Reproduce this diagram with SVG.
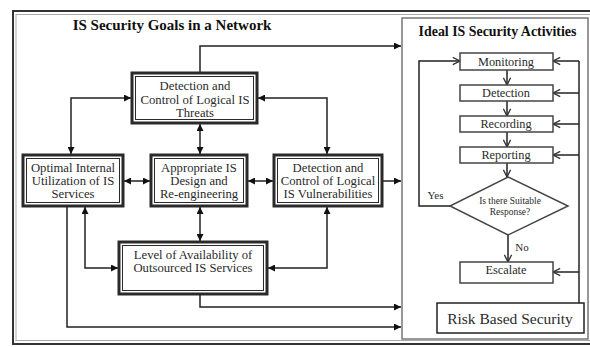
<svg xmlns="http://www.w3.org/2000/svg" width="590" height="347" viewBox="0 0 590 347">
<style>
text{font-family:'Liberation Serif','Times New Roman',Times,serif;fill:#2a2a2a;text-anchor:middle}
.n{font-size:12.7px}
.t{font-weight:bold;fill:#111}
.outer{fill:#fff;stroke:#2a2a2a;stroke-width:3}
.inner{fill:none;stroke:#2a2a2a;stroke-width:1}
.c{fill:none;stroke:#222;stroke-width:1.5}
.s{fill:#fff;stroke:#444;stroke-width:1.5}
.a{font-size:12.3px}
</style>
<defs>
<marker id="f" viewBox="0 0 8 8" refX="8" refY="4" markerWidth="7" markerHeight="7" markerUnits="userSpaceOnUse" orient="auto-start-reverse"><path d="M0,0 L8,4 L0,8 z" fill="#111"/></marker>
<marker id="v" viewBox="0 0 10 10" refX="9" refY="5" markerWidth="9" markerHeight="9" markerUnits="userSpaceOnUse" orient="auto"><path d="M1,1 L9,5 L1,9" fill="none" stroke="#333" stroke-width="1.5"/></marker>
</defs>
<rect x="0" y="0" width="590" height="347" fill="#fff"/>
<rect x="13" y="11" width="600" height="333" fill="none" stroke="#333" stroke-width="2"/>
<rect x="16" y="14.5" width="600" height="326" fill="none" stroke="#aaa" stroke-width="1"/>
<rect x="402" y="18" width="186" height="321" fill="#fff" stroke="#777" stroke-width="1.5"/>
<text class="t" x="172" y="30" style="font-size:15px">IS Security Goals in a Network</text>
<text class="t" x="497.5" y="36" style="font-size:13.9px">Ideal IS Security Activities</text>
<g id="connectors">
<path class="c" d="M200,72 V46 H401" marker-end="url(#f)"/>
<path class="c" d="M71,154 V98 H131" marker-start="url(#f)" marker-end="url(#f)"/>
<path class="c" d="M258,98 H327 V154" marker-start="url(#f)" marker-end="url(#f)"/>
<path class="c" d="M200,124 V154" marker-start="url(#f)" marker-end="url(#f)"/>
<path class="c" d="M124,181 H150" marker-start="url(#f)" marker-end="url(#f)"/>
<path class="c" d="M248,181 H273" marker-start="url(#f)" marker-end="url(#f)"/>
<path class="c" d="M383,181 H401" marker-end="url(#f)"/>
<path class="c" d="M200,207 V241" marker-start="url(#f)" marker-end="url(#f)"/>
<path class="c" d="M85,207 V268 H118" marker-start="url(#f)" marker-end="url(#f)"/>
<path class="c" d="M268,268 H327 V207" marker-start="url(#f)" marker-end="url(#f)"/>
<path class="c" d="M200,295 V307 H401" marker-end="url(#f)"/>
<path class="c" d="M67,207 V327 H401" marker-end="url(#f)"/>
<path class="c" d="M507,70 V85" marker-end="url(#v)"/>
<path class="c" d="M507,101 V116" marker-end="url(#v)"/>
<path class="c" d="M507,132 V147" marker-end="url(#v)"/>
<path class="c" d="M507,163 V177" marker-end="url(#v)"/>
<path class="c" d="M508,235 V262" marker-end="url(#v)"/>
<path class="c" d="M450,206 H419 V61 H460" marker-end="url(#v)"/>
<path class="c" d="M579,303 V61"/>
<path class="c" d="M579,61 H553" marker-end="url(#v)"/>
<path class="c" d="M579,93 H553" marker-end="url(#v)"/>
<path class="c" d="M579,124 H553" marker-end="url(#v)"/>
<path class="c" d="M579,155 H553" marker-end="url(#v)"/>
<path class="c" d="M579,272 H553" marker-end="url(#v)"/>
</g>
<g id="threats">
<rect class="outer" x="132" y="73" width="125" height="50"/>
<rect class="inner" x="135.5" y="76.5" width="118" height="43"/>
<text class="n" x="195" y="90">Detection and</text>
<text class="n" x="195" y="104">Control of Logical IS</text>
<text class="n" x="195" y="117">Threats</text>
</g>
<g id="optimal">
<rect class="outer" x="23" y="155" width="100" height="51"/>
<rect class="inner" x="26.5" y="158.5" width="93" height="44"/>
<text class="n" x="73" y="172">Optimal Internal</text>
<text class="n" x="73" y="185">Utilization of IS</text>
<text class="n" x="73" y="198">Services</text>
</g>
<g id="appropriate">
<rect class="outer" x="151" y="155" width="96" height="51"/>
<rect class="inner" x="154.5" y="158.5" width="89" height="44"/>
<text class="n" x="199" y="172">Appropriate IS</text>
<text class="n" x="199" y="185">Design and</text>
<text class="n" x="199" y="198">Re-engineering</text>
</g>
<g id="vulnerabilities">
<rect class="outer" x="274" y="155" width="108" height="51"/>
<rect class="inner" x="277.5" y="158.5" width="101" height="44"/>
<text class="n" x="328" y="172">Detection and</text>
<text class="n" x="328" y="185">Control of Logical</text>
<text class="n" x="328" y="198">IS Vulnerabilities</text>
</g>
<g id="level">
<rect class="outer" x="119" y="242" width="148" height="52"/>
<rect class="inner" x="122.5" y="245.5" width="141" height="45"/>
<text class="n" x="193" y="259">Level of Availability of</text>
<text class="n" x="193" y="272">Outsourced IS Services</text>
</g>
<g id="monitoring"><rect class="s" x="460" y="53" width="93" height="17"/><text class="a" x="506" y="65.5">Monitoring</text></g>
<g id="detection"><rect class="s" x="460" y="85" width="93" height="16"/><text class="a" x="506" y="97">Detection</text></g>
<g id="recording"><rect class="s" x="460" y="116" width="93" height="16"/><text class="a" x="506" y="128">Recording</text></g>
<g id="reporting"><rect class="s" x="460" y="147" width="93" height="16"/><text class="a" x="506" y="159">Reporting</text></g>
<g id="decision">
<polygon class="s" points="508,177 568,206 508,235 450,206"/>
<text x="510" y="204" style="font-size:9.5px">Is there Suitable</text>
<text x="510" y="215" style="font-size:9.5px">Response?</text>
</g>
<text x="435.5" y="199" style="font-size:11px">Yes</text>
<text x="522" y="251" style="font-size:11px">No</text>
<g id="escalate"><rect class="s" x="460" y="262" width="93" height="21"/><text class="a" x="506" y="274">Escalate</text></g>
<g id="risk"><rect x="437" y="303" width="147" height="30" fill="#fff" stroke="#222" stroke-width="1.5"/><text x="510" y="324" style="font-size:15.5px">Risk Based Security</text></g>
</svg>
